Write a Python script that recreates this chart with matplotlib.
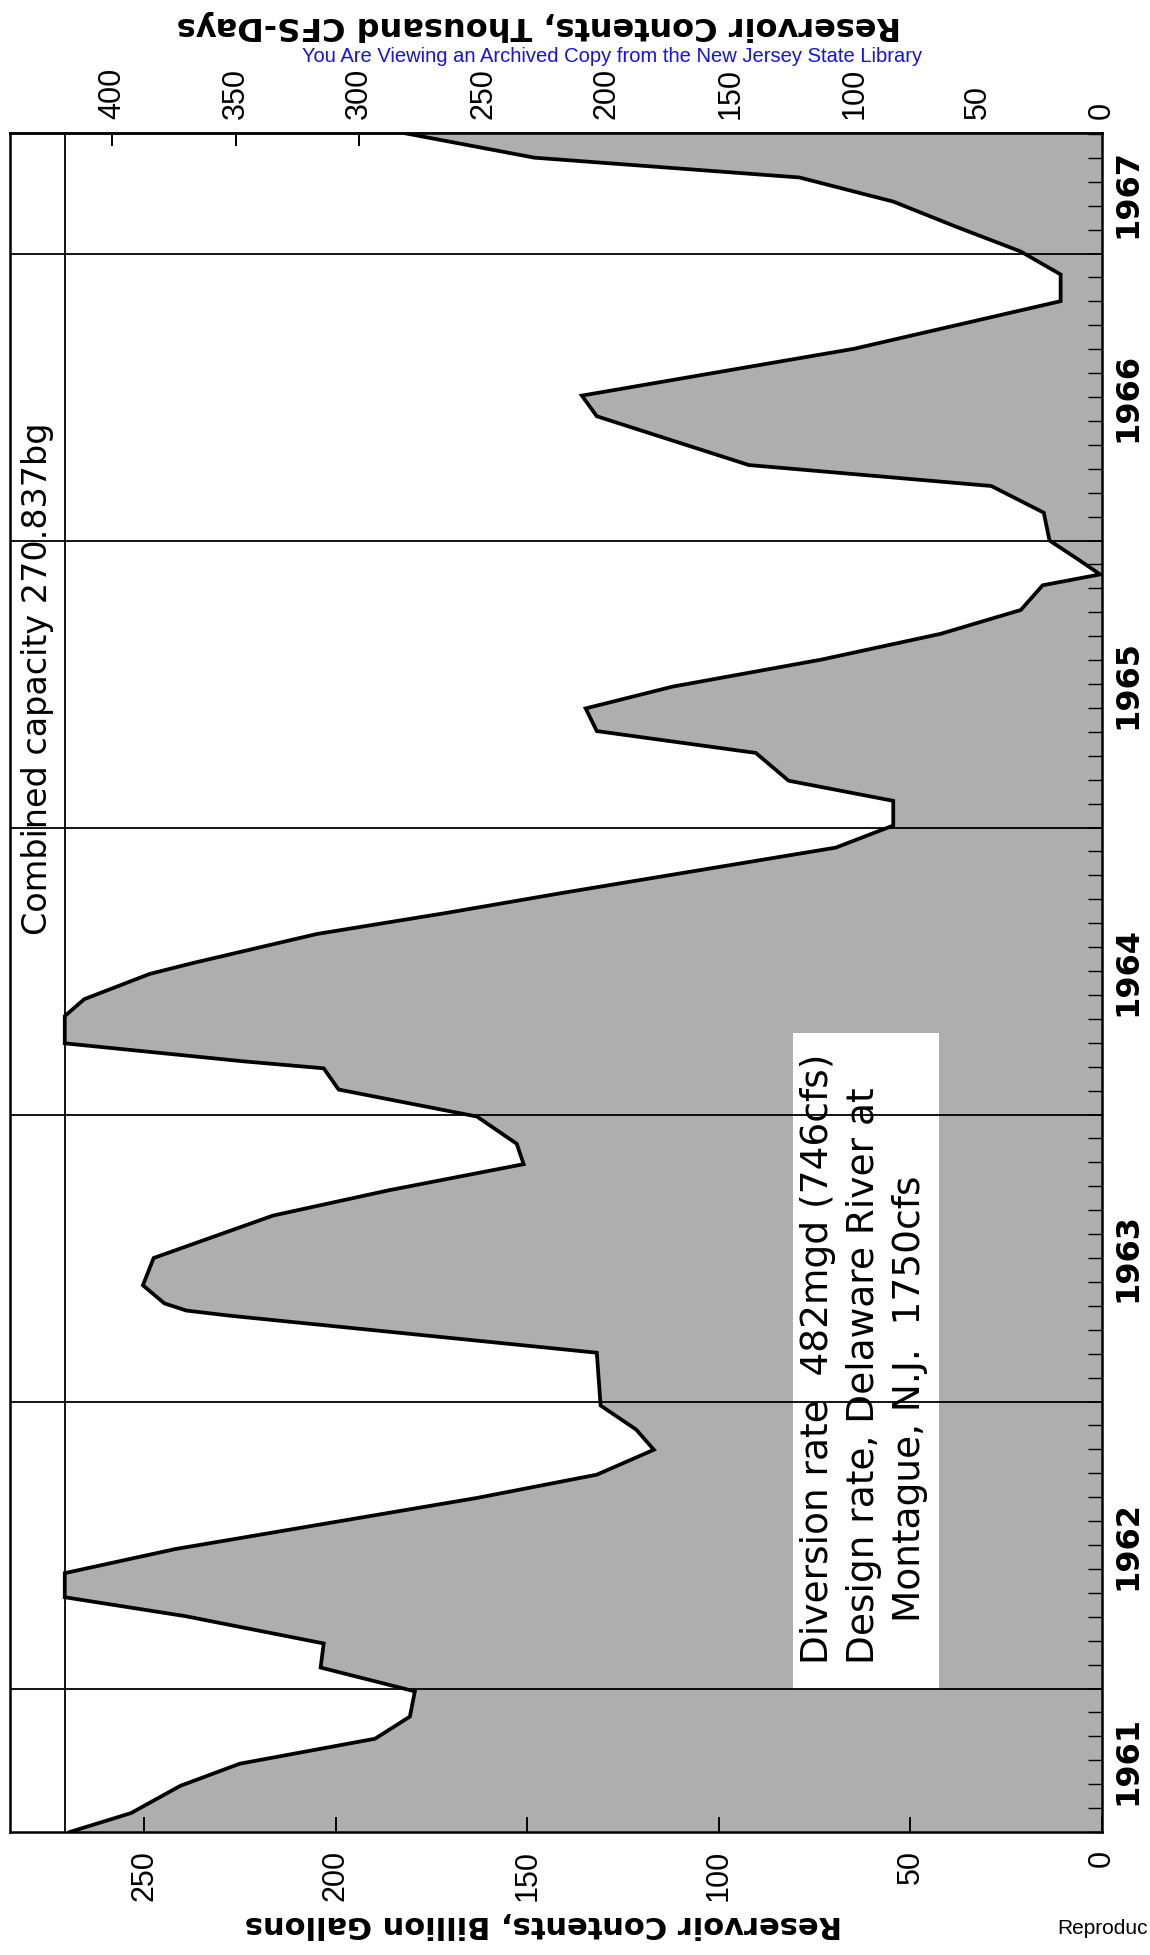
import matplotlib
matplotlib.use('Agg')
import matplotlib.pyplot as plt
import matplotlib.transforms as mtransforms
from matplotlib import font_manager
from matplotlib.patches import Rectangle
from matplotlib.ticker import MultipleLocator

# combined reservoir contents (billion gallons), time in decimal years
years = [1961.500, 1961.566, 1961.661, 1961.738, 1961.825, 1961.902, 1961.990,
         1962.073, 1962.157, 1962.252, 1962.318, 1962.402, 1962.486, 1962.664, 1962.745,
         1962.832, 1962.902, 1962.986,
         1963.170, 1963.299, 1963.317, 1963.342, 1963.405, 1963.500, 1963.648,
         1963.736, 1963.827, 1963.898, 1963.993,
         1964.087, 1964.161, 1964.185, 1964.248, 1964.343, 1964.402, 1964.490, 1964.528,
         1964.629, 1964.703, 1964.773, 1964.930,
         1965.007, 1965.093, 1965.163, 1965.260, 1965.336, 1965.415, 1965.491, 1965.585,
         1965.675, 1965.716, 1965.758, 1965.844, 1965.882, 1965.934, 1966.000,
         1966.097, 1966.190, 1966.263, 1966.433, 1966.505, 1966.668, 1966.834, 1966.927,
         1967.007, 1967.094, 1967.181, 1967.265, 1967.334, 1967.420]
contents = [269.5, 253.5, 240.6, 225.1, 189.8, 180.7, 179.4,
            204.0, 203.2, 239.3, 270.8, 270.8, 241.9, 163.2, 131.9,
            117.0, 121.6, 130.9,
            131.9, 227.7, 239.1, 244.8, 250.4, 247.6, 216.4,
            186.2, 151.0, 152.8, 163.2,
            199.3, 203.2, 223.9, 270.8, 270.8, 265.7, 248.6, 237.3,
            205.0, 170.9, 140.5, 69.5,
            54.5, 54.5, 81.8, 90.4, 131.9, 134.8, 112.1, 73.3,
            42.1, 31.8, 21.2, 15.5, 0.5, 6.2, 13.7,
            15.2, 28.9, 92.2, 131.9, 135.8, 64.8, 10.8, 10.8,
            21.2, 38.2, 54.5, 79.0, 148.2, 182.3]

capacity = 270.837
year_lines = [1962, 1963, 1964, 1965, 1966, 1967]
year_labels = ['1961', '1962', '1963', '1964', '1965', '1966', '1967']
bg_ticks = [0, 50, 100, 150, 200, 250]
cfsd_ticks = [0, 50, 100, 150, 200, 250, 300, 350, 400]
BG_PER_KCFSD = 0.646317  # 1000 cfs-days in billion gallons

names = {f.name for f in font_manager.fontManager.ttflist}
narrow = 'Liberation Sans Narrow' in names

W, H = 1150, 1955
fig = plt.figure(figsize=(W / 100, H / 100), dpi=100)
ax = fig.add_axes([10 / W, 1 - 1832 / H, 1092 / W, 1699 / H])
ax.set_xlim(285.1, 0)
ax.set_ylim(1961.5, 1967.42)

ax.fill_betweenx(years, contents, 0, color='#aeaeae', lw=0, zorder=1)
ax.plot(contents, years, color='black', lw=2.7, solid_joinstyle='miter', zorder=5)
for yl in year_lines:
    ax.axhline(yl, color='black', lw=1.3, zorder=4)
ax.axvline(capacity, color='black', lw=1.3, zorder=4)

# label box
ax.add_patch(Rectangle((42.6, 1962.0), 38.1, 2.283, facecolor='white', edgecolor='none', zorder=3))
box_font = dict(family='DejaVu Sans', fontsize=27, rotation=90, ha='center', va='bottom', zorder=6)
ax.text(74.2, 1962.087, 'Diversion rate  482mgd (746cfs)', **box_font)
ax.text(62.1, 1962.087, 'Design rate, Delaware River at', **box_font)
ax.text(50.1, 1962.231, 'Montague, N.J.  1750cfs', **box_font)

ax.text((285.1 + capacity) / 2, 1965.52, 'Combined capacity 270.837bg', rotation=90,
        ha='center', va='center', fontsize=24, family='DejaVu Sans', zorder=6)

# axes and ticks
for s in ax.spines.values():
    s.set_linewidth(1.8)
ax.set_xticks(bg_ticks)
ax.set_xticklabels([str(t) for t in bg_ticks], rotation=90, family='Liberation Sans', fontsize=22)
ax.tick_params(axis='x', direction='in', length=11, width=1.4, pad=13, bottom=True, top=False)

ax.set_yticks(year_lines)
ax.yaxis.set_minor_locator(MultipleLocator(1 / 12))
ax.tick_params(axis='y', which='both', direction='in', left=False, right=True,
               labelleft=False, labelright=False)
ax.tick_params(axis='y', which='minor', length=10, width=1.0)
ax.tick_params(axis='y', which='major', length=10, width=1.2)

top = ax.secondary_xaxis('top', functions=(lambda b: b / BG_PER_KCFSD, lambda k: k * BG_PER_KCFSD))
top.set_xticks(cfsd_ticks)
top.set_xticklabels([str(t) for t in cfsd_ticks], rotation=90, family='Liberation Sans', fontsize=22)
top.tick_params(axis='x', direction='in', length=9, width=1.4, pad=10)
top.spines['top'].set_linewidth(1.8)

# year labels on the right
trans = mtransforms.blended_transform_factory(ax.transAxes, ax.transData)
lo, hi = ax.get_ylim()
if narrow:
    yfont = dict(family='Liberation Sans Narrow', fontsize=32, fontweight='bold')
else:
    yfont = dict(family='DejaVu Sans', fontsize=23, fontweight='bold')
for i, lab in enumerate(year_labels):
    y0 = max(1961 + i, lo)
    y1 = min(1962 + i, hi)
    ax.text(1.0238, (y0 + y1) / 2, lab, transform=trans, rotation=90,
            ha='center', va='center', **yfont)

# axis titles (printed upside down on the page)
fig.text(539 / W, 1 - 26 / H, 'Reservoir Contents, Thousand CFS-Days', rotation=180,
         ha='center', va='center', fontsize=23, fontweight='bold', family='DejaVu Sans')
fig.text(543 / W, 1 - 1925 / H, 'Reservoir Contents, Billion Gallons', rotation=180,
         ha='center', va='center', fontsize=22, fontweight='bold', family='DejaVu Sans')

fig.text(612 / W, 1 - 57 / H, 'You Are Viewing an Archived Copy from the New Jersey State Library',
         ha='center', va='center', fontsize=14.5, color='#1010ff', family='Liberation Sans')
fig.text(1057 / W, 1 - 1928 / H, 'Reproduc', ha='left', va='center', fontsize=15,
         family='Liberation Sans')

fig.savefig('out.png', dpi=100, facecolor='white')
